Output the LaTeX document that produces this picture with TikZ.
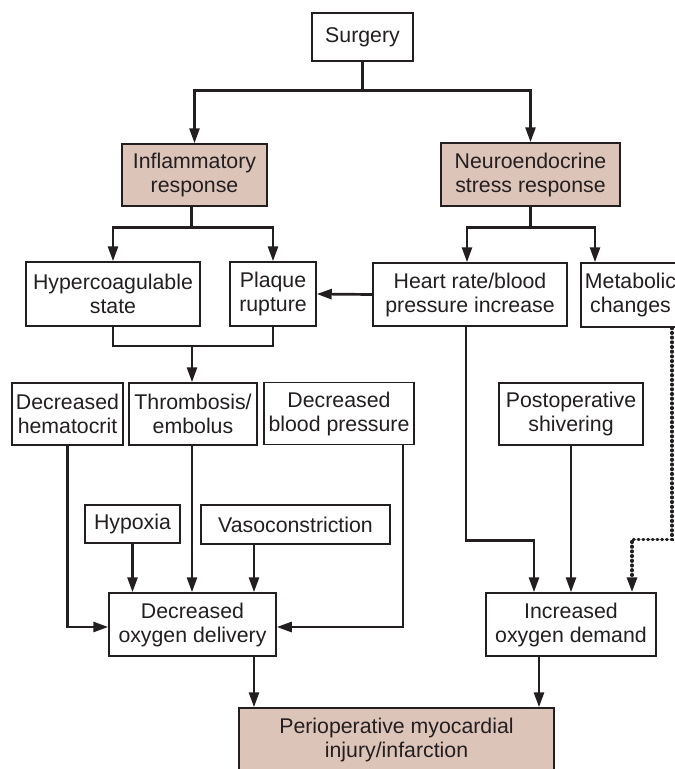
\documentclass[tikz,border=0pt]{standalone}
\usepackage{fontspec}
\setmainfont{Liberation Sans}
\usetikzlibrary{arrows.meta,calc}
\definecolor{ink}{HTML}{231F20}
\definecolor{blush}{RGB}{220,196,185}
\begin{document}
\begin{tikzpicture}[x=1pt,y=-1pt,
  every node/.style={text=ink},
  box/.style={draw=ink, line width=1.5pt, fill=white, inner sep=0pt, align=center,
    font=\fontsize{21.3}{24}\selectfont},
  hot/.style={box, fill=blush},
  tip/.style={-{Triangle[length=15pt,width=10pt]}},
  conn/.style={draw=ink, line width=2.7pt},
  arr/.style={conn, tip},
  dotarr/.style={draw=ink, line width=3.2pt, line cap=round, dash pattern=on 0.9pt off 3.8pt, tip}]
\useasboundingbox (0,0) rectangle (675,769);
\clip (0,0) rectangle (675,769);

% boxes
\node[box, minimum width=101, minimum height=48] (surgery) at (362.5,37) {Surgery};
\node[hot, minimum width=145, minimum height=62] (inflam) at (194.5,175) {Inflammatory\\response};
\node[hot, minimum width=179, minimum height=63] (neuro) at (530.5,174.5) {Neuroendocrine\\stress response};

\node[box, minimum width=174, minimum height=64] (hyper) at (113,294) {Hypercoagulable\\state};
\node[box, minimum width=86, minimum height=64] (plaque) at (273,294) {Plaque\\rupture};
\node[box, minimum width=194, minimum height=63] (heart) at (470,294.5) {Heart rate/blood\\pressure increase};
\node[box, minimum width=99, minimum height=64] (metab) at (630.5,295) {Metabolic\\changes};

\node[box, minimum width=111, minimum height=62] (hemat) at (67.5,414) {Decreased\\hematocrit};
\node[box, minimum width=128, minimum height=62] (thromb) at (193,414) {Thrombosis/\\embolus};
\node[box, minimum width=150, minimum height=62] (dbp) at (339,413.5) {Decreased\\blood pressure};
\node[box, minimum width=144, minimum height=62] (postop) at (571,414) {Postoperative\\shivering};

\node[box, minimum width=95, minimum height=38] (hypoxia) at (132.5,524) {Hypoxia};
\node[box, minimum width=189, minimum height=39] (vaso) at (295.5,524.5) {Vasoconstriction};

\node[box, minimum width=167, minimum height=63] (delivery) at (192.5,624.5) {Decreased\\oxygen delivery};
\node[box, minimum width=170, minimum height=63] (demand) at (571,624.5) {Increased\\oxygen demand};

\node[hot, minimum width=315, minimum height=63] (perio) at (396.5,739.5) {Perioperative myocardial\\injury/infarction};

% surgery splits into the two responses
\coordinate (j1) at ($(surgery.south)+(0,29)$);
\draw[conn] (surgery.south) -- (j1);
\draw[arr] (j1) -| (inflam.north);
\draw[arr] (j1) -| (neuro.north);

% inflammatory branch
\coordinate (j2) at ($(inflam.south)+(-3,21)$);
\draw[conn] ([xshift=-3pt]inflam.south) -- (j2);
\draw[arr] (j2) -| (hyper.north);
\draw[arr] (j2) -| (plaque.north);

% neuroendocrine branch
\coordinate (j3) at ($(neuro.south)+(0,21)$);
\coordinate (hn) at ([xshift=-3pt]heart.north);
\coordinate (mn) at ([xshift=-35.5pt]metab.north);
\draw[conn] (neuro.south) -- (j3);
\draw[arr] (j3) -| (hn);
\draw[arr] (j3) -| (mn);

% heart rate feeds plaque rupture
\draw[arr] (heart.west) -- (plaque.east);

% thrombosis from coagulation and plaque
\coordinate (j5) at (192,346);
\draw[conn] (hyper.south) |- (j5) -| (plaque.south);
\draw[arr] (j5) -- (j5 |- thromb.north);

% oxygen delivery inputs
\draw[arr] (hemat.south) |- ([yshift=-2.5pt]delivery.west);
\draw[arr] ([xshift=-1pt]thromb.south) -- ([xshift=-0.5pt]delivery.north);
\draw[arr] (hypoxia.south) -- (hypoxia.south |- delivery.north);
\coordinate (vs) at ([xshift=-41.5pt]vaso.south);
\draw[arr] (vs) -- (vs |- delivery.north);
\coordinate (ds) at ([xshift=64pt]dbp.south);
\draw[arr] (ds) |- ([yshift=-2.5pt]delivery.east);

% oxygen demand inputs
\coordinate (hs) at ([xshift=-4pt]heart.south);
\coordinate (dl) at ([xshift=-37pt]demand.north);
\draw[arr] (hs) |- ($(dl)+(0,-52)$) -- (dl);
\draw[arr] (postop.south) -- (demand.north);
\coordinate (ms) at ([xshift=41.5pt]metab.south);
\coordinate (dr) at ([xshift=61pt]demand.north);
\draw[dotarr] (ms) |- ($(dr)+(0,-53)$) -- (dr);

% outcome
\coordinate (os) at ([xshift=61.5pt]delivery.south);
\draw[arr] (os) -- (os |- perio.north);
\coordinate (ns) at ([xshift=-32pt]demand.south);
\draw[arr] (ns) -- (ns |- perio.north);
\end{tikzpicture}
\end{document}
